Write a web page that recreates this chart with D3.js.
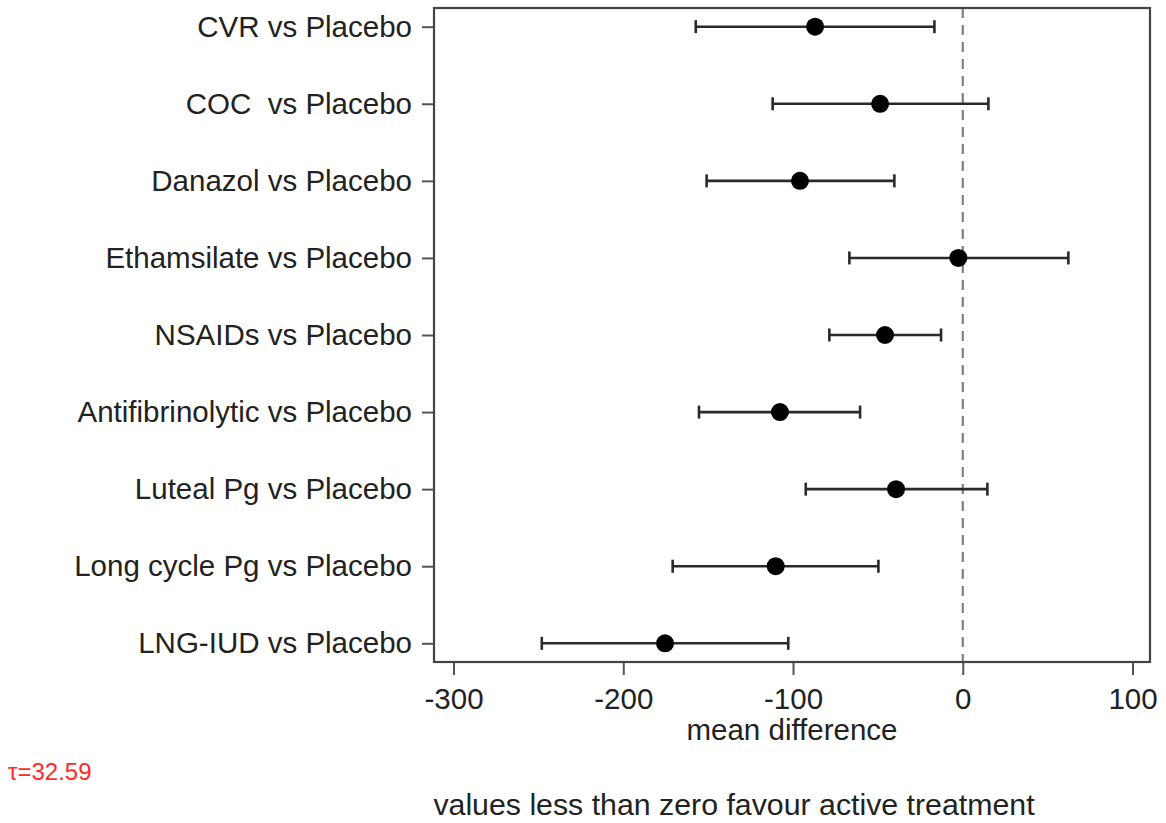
<!DOCTYPE html>
<html>
<head>
<meta charset="utf-8">
<script src="https://cdn.jsdelivr.net/npm/d3@7"></script>
<style>
  body { margin: 0; background: #fff; }
  text { font-family: "Liberation Sans", Arial, sans-serif; }
</style>
</head>
<body>
<div id="chart"></div>
<script>
// comparisons, top to bottom
var comparisons = ['CVR vs Placebo', 'COC  vs Placebo', 'Danazol vs Placebo', 'Ethamsilate vs Placebo',
    'NSAIDs vs Placebo', 'Antifibrinolytic vs Placebo', 'Luteal Pg vs Placebo',
    'Long cycle Pg vs Placebo', 'LNG-IUD vs Placebo'];
var meanDiff = [-87, -48.7, -95.9, -2.6, -45.8, -107.7, -39.3, -110.2, -175.4];
var lowerCI = [-157.3, -112, -150.9, -66.8, -78.6, -155.4, -92.5, -170.9, -248];
var upperCI = [-16.7, 15.1, -40.3, 62.2, -12.8, -60.5, 14.5, -49.7, -102.8];
var xTicks = [-300, -200, -100, 0, 100];
var xDomain = [-311.5, 110.3];
var tauText = 'τ=32.59';
var xTitle = 'mean difference';
var footer = 'values less than zero favour active treatment';

const width = 1166;
const height = 823;
const plot = {left: 434, right: 1150, top: 8, bottom: 662};

var rows = comparisons.map((c, i) => ({
    label: c, mean: meanDiff[i], lo: lowerCI[i], hi: upperCI[i]
}));

var svg = d3.select('#chart')
    .append('svg')
        .attr('width', width)
        .attr('height', height);

var x = d3.scaleLinear()
    .domain(xDomain)
    .range([plot.left, plot.right]);

var y = d3.scalePoint()
    .domain(comparisons)
    .range([26.7, 643.3]);

// dashed reference line at zero
svg.append('line')
    .attr('x1', x(0))
    .attr('x2', x(0))
    .attr('y1', plot.top)
    .attr('y2', plot.bottom)
    .attr('stroke', '#808080')
    .attr('stroke-width', 2.2)
    .attr('stroke-dasharray', '10,7');

// x axis (plain hyphen for negatives)
var gx = svg.append('g')
    .attr('transform', `translate(0,${plot.bottom})`)
    .call(d3.axisBottom(x).tickValues(xTicks).tickFormat(d => String(d))
        .tickSize(13).tickPadding(13).tickSizeOuter(0));

// y axis
var gy = svg.append('g')
    .attr('transform', `translate(${plot.left},0)`)
    .call(d3.axisLeft(y).tickSize(12).tickPadding(10).tickSizeOuter(0));

[gx, gy].forEach(g => {
    g.select('.domain').remove();
    g.selectAll('.tick line').attr('stroke', '#555').attr('stroke-width', 2);
    g.selectAll('.tick text')
        .attr('fill', '#222')
        .style('font-size', '29.5px')
        .style('font-family', '"Liberation Sans", Arial, sans-serif')
        .style('white-space', 'pre');
});

// frame
svg.append('rect')
    .attr('x', plot.left)
    .attr('y', plot.top)
    .attr('width', plot.right - plot.left)
    .attr('height', plot.bottom - plot.top)
    .attr('fill', 'none')
    .attr('stroke', '#444')
    .attr('stroke-width', 2.2);

// error bars
svg.selectAll('.ci')
    .data(rows)
    .enter()
    .append('line')
        .attr('class', 'ci')
        .attr('x1', d => x(d.lo))
        .attr('x2', d => x(d.hi))
        .attr('y1', d => y(d.label))
        .attr('y2', d => y(d.label))
        .attr('stroke', '#2a2a2a')
        .attr('stroke-width', 2.6);

svg.selectAll('.cap-lo')
    .data(rows)
    .enter()
    .append('line')
        .attr('class', 'cap-lo')
        .attr('x1', d => x(d.lo))
        .attr('x2', d => x(d.lo))
        .attr('y1', d => y(d.label) - 6.5)
        .attr('y2', d => y(d.label) + 6.5)
        .attr('stroke', '#2a2a2a')
        .attr('stroke-width', 2.6);

svg.selectAll('.cap-hi')
    .data(rows)
    .enter()
    .append('line')
        .attr('class', 'cap-hi')
        .attr('x1', d => x(d.hi))
        .attr('x2', d => x(d.hi))
        .attr('y1', d => y(d.label) - 6.5)
        .attr('y2', d => y(d.label) + 6.5)
        .attr('stroke', '#2a2a2a')
        .attr('stroke-width', 2.6);

// point estimates
svg.selectAll('.pt')
    .data(rows)
    .enter()
    .append('circle')
        .attr('class', 'pt')
        .attr('cx', d => x(d.mean))
        .attr('cy', d => y(d.label))
        .attr('r', 9)
        .attr('fill', '#000');

// axis title
svg.append('text')
    .text(xTitle)
    .attr('x', (plot.left + plot.right) / 2)
    .attr('y', 740)
    .attr('text-anchor', 'middle')
    .attr('fill', '#222')
    .style('font-size', '29.5px');

// tau annotation
svg.append('text')
    .text(tauText)
    .attr('x', 8)
    .attr('y', 780)
    .attr('fill', '#ff2a2a')
    .style('font-size', '24px');

// footer note
svg.append('text')
    .text(footer)
    .attr('x', 734)
    .attr('y', 815)
    .attr('text-anchor', 'middle')
    .attr('fill', '#222')
    .style('font-size', '30.3px');
</script>
</body>
</html>
